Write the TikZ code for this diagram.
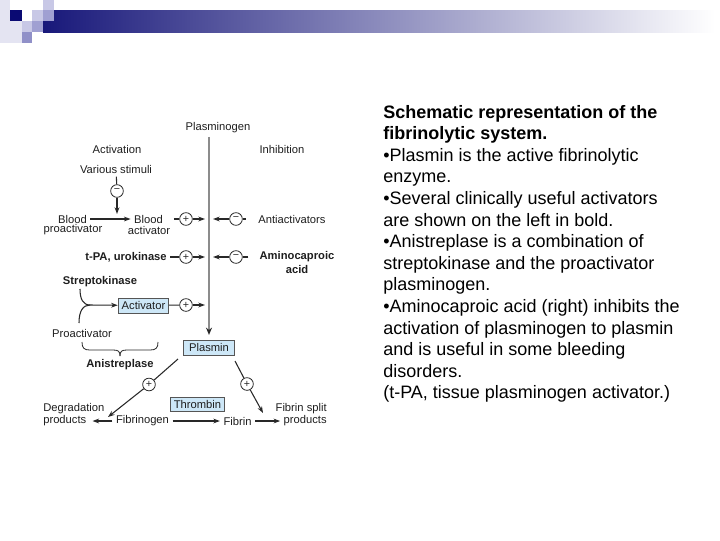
\documentclass[tikz,border=0pt]{standalone}
\usepackage{fontspec}
\setmainfont{Liberation Sans}
\usetikzlibrary{arrows.meta,calc}
\definecolor{navyd}{RGB}{24,24,122}
\definecolor{navysq}{RGB}{10,10,115}
\definecolor{lavA}{RGB}{228,228,242}
\definecolor{lavB}{RGB}{200,200,230}
\definecolor{lavC}{RGB}{160,160,210}
\definecolor{lavD}{RGB}{144,144,200}
\definecolor{txt}{RGB}{30,30,30}
\definecolor{lin}{RGB}{40,40,40}
\definecolor{mainl}{RGB}{140,140,140}
\definecolor{boxfill}{RGB}{205,231,247}
\definecolor{boxline}{RGB}{85,85,85}
\begin{document}
\begin{tikzpicture}[x=0.75pt,y=-0.75pt,
  lbl/.style={font=\fontsize{8.4}{11}\selectfont, text=txt, inner sep=2.5pt},
  blbl/.style={font=\fontsize{8.4}{11}\selectfont\bfseries, text=txt, inner sep=2.5pt},
  box/.style={lbl, draw=boxline, fill=boxfill, line width=0.6pt, minimum width=38pt, minimum height=11.25pt, inner ysep=1pt},
  sgn/.style={circle, draw=lin, fill=white, line width=0.6pt, minimum size=9.5pt, inner sep=0pt, font=\fontsize{8}{8}\selectfont, text=lin},
  conn/.style={draw=lin, line width=0.8pt},
  arr/.style={conn, -{Stealth[length=5pt,width=3.6pt]}},
  mainarr/.style={draw=mainl, line width=1.4pt, -{Stealth[length=5.5pt,width=4.5pt,color=lin]}},
  rtxt/.style={font=\fontsize{13.5}{16.2}\selectfont, text=black, inner sep=0pt, anchor=base west}
]
\useasboundingbox (0,0) rectangle (720,540);

% header decoration
\shade[left color=navyd, right color=white] (43,10) rectangle (715,32);
\fill[lavA] (0,0) rectangle (10,43);
\fill[lavA] (10,21) rectangle (22,43);
\fill[navysq] (10,10) rectangle (22,21);
\fill[lavB] (43,0) rectangle (54,10);
\fill[lavB] (32,10) rectangle (43,21);
\fill[lavC] (43,10) rectangle (54,21);
\fill[lavB] (22,21) rectangle (32,32);
\fill[lavC] (32,21) rectangle (43,32);
\fill[lavD] (22,32) rectangle (32,43);

% labels
\node[lbl] (plg) at (218,128) {Plasminogen};
\node[lbl] (act) at (117,149) {Activation};
\node[lbl] (inh) at (282,149) {Inhibition};
\node[lbl] (vs) at (116,169) {Various stimuli};
\node[lbl] (bp1) at (72.5,219) {Blood};
\node[lbl] (bp2) at (73,230) {proactivator};
\node[lbl] (ba1) at (148.5,219) {Blood};
\node[lbl] (ba2) at (149,230) {activator};
\node[lbl,anchor=west] (anti) at (254.7,219) {Antiactivators};
\node[blbl,anchor=east] (tpa) at (170.3,257) {t-PA, urokinase};
\node[blbl,align=center] (amino) at (297,262.5) {Aminocaproic\\acid};
\node[blbl] (strep) at (100,282) {Streptokinase};
\node[box] (actv) at (143.5,305.5) {Activator};
\node[lbl] (proact) at (82,333) {Proactivator};
\node[blbl] (anis) at (120,365) {Anistreplase};
\node[box] (plasmin) at (209,347.5) {Plasmin};
\node[box, minimum height=10.5pt] (thr) at (197.5,404) {Thrombin};
\node[lbl,anchor=west] (deg1) at (39.7,409) {Degradation};
\node[lbl,anchor=west] (deg2) at (39.7,421) {products};
\node[lbl] (fbg) at (142.5,421) {Fibrinogen};
\node[lbl] (fib) at (237.5,421) {Fibrin};
\node[lbl,anchor=east] (fsp1) at (330.3,409) {Fibrin split};
\node[lbl,anchor=east] (fsp2) at (330.3,421) {products};

% sign circles
\node[sgn] (c1) at (117,191) {−};
\node[sgn] (c2) at (186,219) {+};
\node[sgn] (c3) at (236,219) {−};
\node[sgn] (c4) at (186,257) {+};
\node[sgn] (c5) at (236,257) {−};
\node[sgn] (c6) at (186,305) {+};
\node[sgn] (c7) at (149,384.5) {+};
\node[sgn] (c8) at (247,384) {+};

% free ends
\coordinate (j1) at (117,214);
\coordinate (L1) at (205,219);
\coordinate (R1) at (213,219);
\coordinate (L2) at (205,257);
\coordinate (R2) at (213,257);
\coordinate (L3) at (205,305);
\coordinate (s1) at (80,289);
\coordinate (s2) at (79,323);
\coordinate (m) at (90,305);
\coordinate (p1) at (178,359);
\coordinate (e1) at (108,417);
\coordinate (p2) at (235,361);
\coordinate (e2) at (263,413);
\coordinate (brl) at (82,342);
\coordinate (brr) at (158,342);
\coordinate (brt) at (120,356);

% main vertical
\draw[mainarr, shorten >=3.5pt] (plg.south -| plasmin.north) -- (plasmin.north);

% activation side
\draw[conn] (vs) -- (c1);
\draw[arr] (c1) -- (j1);
\draw[arr] (bp1) -- (ba1);
\draw[conn] (ba2.east |- c2) -- (c2);
\draw[arr] (c2) -- (L1);
\draw[conn] (tpa) -- (c4);
\draw[arr] (c4) -- (L2);
\draw[conn] (actv) -- (c6);
\draw[arr] (c6) -- (L3);

% inhibition side
\draw[conn, shorten <=6.5pt] (anti.west) -- (c3);
\draw[arr] (c3) -- (R1);
\draw[conn, shorten <=5.8pt] (amino.west |- c5) -- (c5);
\draw[arr] (c5) -- (R2);

% streptokinase + proactivator
\draw[conn] (s1) .. controls (80,299) and (83,305) .. (m);
\draw[conn] (s2) .. controls (79,311) and (83,305) .. (m);
\draw[arr] (m) -- (actv);

% brace
\draw[conn, line width=0.6pt] (brl) .. controls (82,348) and (84,350) .. (90,350) -- (113,350) .. controls (118,350) and (120,351) .. (brt);
\draw[conn, line width=0.6pt] (brr) .. controls (158,348) and (156,350) .. (150,350) -- (127,350) .. controls (122,350) and (120,351) .. (brt);

% plasmin actions
\draw[conn] (p1) -- (c7);
\draw[arr] (c7) -- (e1);
\draw[conn] (p2) -- (c8);
\draw[arr] (c8) -- (e2);

% bottom row
\draw[arr, shorten >=2pt] (fbg) -- (deg2);
\draw[arr] (fbg) -- (fib);
\draw[arr] (fib) -- (fsp2);

% right text
\foreach [count=\i] \t in {
  {\textbf{Schematic representation of the}},
  {\textbf{fibrinolytic system.}},
  {•Plasmin is the active fibrinolytic},
  {enzyme.},
  {•Several clinically useful activators},
  {are shown on the left in bold.},
  {•Anistreplase is a combination of},
  {streptokinase and the proactivator},
  {plasminogen.},
  {•Aminocaproic acid (right) inhibits the},
  {activation of plasminogen to plasmin},
  {and is useful in some bleeding},
  {disorders.},
  {(t-PA, tissue plasminogen activator.)}}
{
  \node[rtxt] (t\i) at (383,{118+21.6*(\i-1)}) {\t};
}
\end{tikzpicture}
\end{document}
